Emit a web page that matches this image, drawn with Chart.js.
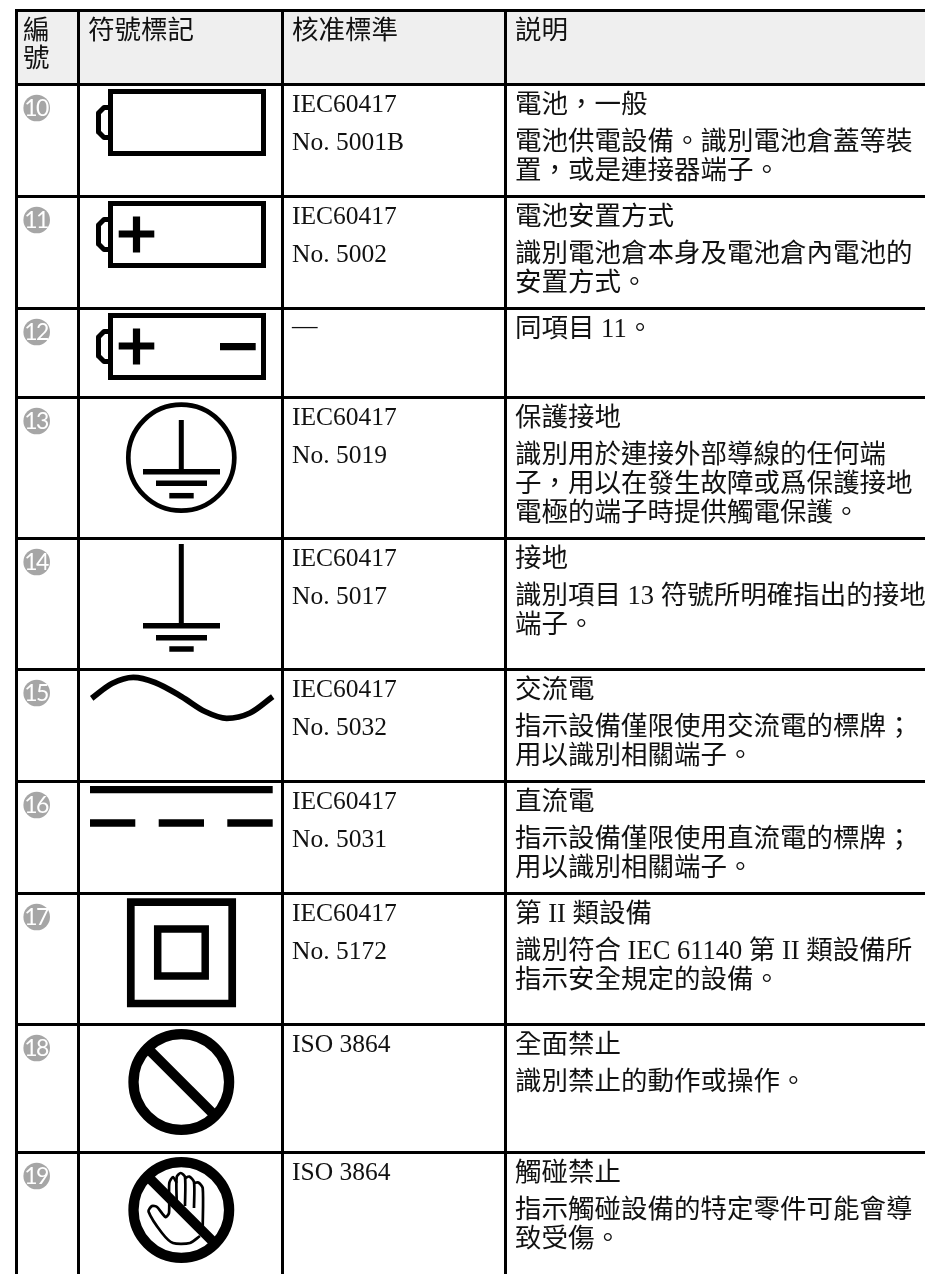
<!DOCTYPE html>
<html>
<head>
<meta charset="utf-8">
<style>
  html, body { margin: 0; padding: 0; background: #fff; }
  canvas { display: block; }
</style>
<script src="https://cdn.jsdelivr.net/npm/chart.js@4/dist/chart.umd.min.js"></script>
</head>
<body>
<canvas id="myChart" width="925" height="1274"></canvas>
<script>
// table content
var headers = ["符號標記", "核准標準", "説明"];
var headerNumber = ["編", "號"];
var itemNumbers = ["10", "11", "12", "13", "14", "15", "16", "17", "18", "19"];
var standards = [
  ["IEC60417", "No. 5001B"],
  ["IEC60417", "No. 5002"],
  ["—"],
  ["IEC60417", "No. 5019"],
  ["IEC60417", "No. 5017"],
  ["IEC60417", "No. 5032"],
  ["IEC60417", "No. 5031"],
  ["IEC60417", "No. 5172"],
  ["ISO 3864"],
  ["ISO 3864"],
];
var descriptions = [
  ["電池，一般", "電池供電設備。識別電池倉蓋等裝", "置，或是連接器端子。"],
  ["電池安置方式", "識別電池倉本身及電池倉內電池的", "安置方式。"],
  ["同項目 11。"],
  ["保護接地", "識別用於連接外部導線的任何端", "子，用以在發生故障或爲保護接地", "電極的端子時提供觸電保護。"],
  ["接地", "識別項目 13 符號所明確指出的接地", "端子。"],
  ["交流電", "指示設備僅限使用交流電的標牌；", "用以識別相關端子。"],
  ["直流電", "指示設備僅限使用直流電的標牌；", "用以識別相關端子。"],
  ["第 II 類設備", "識別符合 IEC 61140 第 II 類設備所", "指示安全規定的設備。"],
  ["全面禁止", "識別禁止的動作或操作。"],
  ["觸碰禁止", "指示觸碰設備的特定零件可能會導", "致受傷。"],
];

// table rules
var columnEdges = [16.5, 78.5, 282.5, 505.5];
var rowEdges = [10.5, 84.5, 196.5, 308.5, 397.5, 538.5, 669.5, 781.5, 893.5, 1024.5, 1152.5];
var tableRight = 925;
var tableBottom = 1274;

// symbols, in page pixels
var batteryTops = [84, 196, 308];
var plusRows = [196, 308];
var groundBars = [[143, 220], [156, 207], [169.3, 193.7]];
var groundBarsY13 = [471.7, 483.3, 495.7];
var groundBarsY14 = [625.7, 637.8, 649];
var wave = [[91.7, 698.3], [112, 683.5], [133.3, 677.3], [155, 682.5], [181.7, 696.7], [205, 711.5], [226.7, 718.3], [250, 713], [272.7, 696.7]];
var dcSolid = [[90, 789.7], [272.7, 789.7]];
var dcDashes = [[90, 135.3], [158.7, 204], [227.3, 272.7]];
var dcDashY = 823;
var outerSquare = [[130.8, 902.2], [232.2, 902.2], [232.2, 1003.5], [130.8, 1003.5], [130.8, 902.2]];
var innerSquare = [[157.7, 929], [205.2, 929], [205.2, 976], [157.7, 976], [157.7, 929]];
var handOutline = [[200, 1236], [190, 1243], [173, 1243], [162, 1233], [148.5, 1211.5], [152, 1206], [157, 1207], [165.5, 1217], [169, 1213], [169.3, 1183], [173, 1177], [176.7, 1183]];
var handFingers = [
  [[176.7, 1203], [176.7, 1177], [180.7, 1173], [185, 1177], [185, 1206]],
  [[185, 1178], [189.3, 1176.5], [194, 1182], [194, 1208]],
  [[194, 1183], [198.3, 1182.5], [202.7, 1188], [202.7, 1228]],
];

var rows = [];
function path(points, width, extra) {
  rows.push(Object.assign({
    type: "line",
    data: points.map(function (p) { return { x: p[0], y: p[1] }; }),
    borderColor: "#000",
    borderWidth: width,
    pointRadius: 0,
    fill: false,
    clip: false,
  }, extra || {}));
}

// rules
var ruleWidth = 3;
columnEdges.forEach(function (x) {
  path([[x, rowEdges[0] - 1.5], [x, tableBottom]], ruleWidth);
});
rowEdges.forEach(function (y) {
  path([[columnEdges[0], y], [tableRight, y]], ruleWidth);
});

// batteries
batteryTops.forEach(function (t) {
  path([[110.5, t + 7.5], [263.5, t + 7.5], [263.5, t + 69.5], [110.5, t + 69.5], [110.5, t + 7.5]], 5, { borderCapStyle: "square" });
  path([[109, t + 23.5], [104, t + 23.5], [98.5, t + 29], [98.5, t + 48], [104, t + 53.5], [109, t + 53.5]], 5, { borderJoinStyle: "round" });
});
plusRows.forEach(function (t) {
  path([[118.7, t + 38], [154.3, t + 38]], 7.2);
  path([[136.5, t + 20.5], [136.5, t + 56.5]], 7.2);
});
path([[220, 346.7], [255.7, 346.7]], 7.2);

// earth symbols
path([[181.3, 420], [181.3, 472]], 5);
path([[181.3, 544], [181.3, 626]], 5);
groundBars.forEach(function (b, i) {
  path([[b[0], groundBarsY13[i]], [b[1], groundBarsY13[i]]], 5.5);
  path([[b[0], groundBarsY14[i]], [b[1], groundBarsY14[i]]], 5.5);
});

// ac / dc
path(wave, 5.8, { cubicInterpolationMode: "monotone" });
path(dcSolid, 7.3);
dcDashes.forEach(function (d) {
  path([[d[0], dcDashY], [d[1], dcDashY]], 7.3);
});

// class II
path(outerSquare, 7.7, { borderCapStyle: "square" });
path(innerSquare, 7.5, { borderCapStyle: "square" });

// prohibition signs
path([[147.5, 1048.2], [215.1, 1115.8]], 10);
path([[147.5, 1176.2], [215.1, 1243.8]], 10);
path(handOutline, 2.7, { borderJoinStyle: "round", tension: 0.25 });
handFingers.forEach(function (f) {
  path(f, 2.7, { borderJoinStyle: "round", tension: 0.25 });
});

// rings
function ring(x, y, radius, width) {
  rows.push({
    type: "scatter",
    data: [{ x: x, y: y }],
    showLine: false,
    pointRadius: radius,
    pointBorderWidth: width,
    pointBorderColor: "#000",
    pointBackgroundColor: "rgba(0,0,0,0)",
    clip: false,
  });
}
ring(181.3, 457.7, 53, 4.7);
ring(181.3, 1082, 47.8, 10.3);
ring(181.3, 1210, 47.8, 10.3);

// number badges
rows.push({
  type: "scatter",
  data: itemNumbers.map(function (n, i) { return { x: 36.7, y: rowEdges[i + 1] + 23.5 }; }),
  showLine: false,
  pointRadius: 13.3,
  pointBorderWidth: 0,
  pointBackgroundColor: "#a6a6a6",
  clip: false,
});

// header band
rows.push({
  type: "line",
  data: [{ x: columnEdges[0], y: rowEdges[0] }, { x: tableRight, y: rowEdges[0] }],
  borderWidth: 0,
  pointRadius: 0,
  backgroundColor: "#efefef",
  fill: { target: { value: rowEdges[1] } },
  clip: false,
});

var serif = '"Liberation Serif", "Noto Sans CJK TC", serif';
var lineOffsets = [21.5, 59, 88, 117];
var standardOffsets = [20.5, 58.5];
var dashOffset = 18.5;

var tableText = {
  id: "tableText",
  afterDatasetsDraw: function (chart) {
    var ctx = chart.ctx;
    var sx = chart.scales.x;
    var sy = chart.scales.y;
    function put(str, x, y) {
      ctx.fillText(str, sx.getPixelForValue(x), sy.getPixelForValue(y));
    }
    ctx.save();
    ctx.textAlign = "left";
    ctx.textBaseline = "middle";
    ctx.fillStyle = "#111";

    ctx.font = "26.5px " + serif;
    put(headerNumber[0], 23, 32);
    put(headerNumber[1], 23, 60);
    put(headers[0], 88, 32);
    put(headers[1], 292, 32);
    put(headers[2], 515, 32);

    itemNumbers.forEach(function (n, i) {
      var top = rowEdges[i + 1];
      ctx.font = "25.5px " + serif;
      standards[i].forEach(function (s, j) {
        put(s, 292, top + (s === "—" ? dashOffset : standardOffsets[j]));
      });
      ctx.font = "26.5px " + serif;
      descriptions[i].forEach(function (s, j) {
        put(s, 515, top + lineOffsets[j]);
      });
    });

    ctx.fillStyle = "#fff";
    ctx.textAlign = "center";
    ctx.font = '400 23px Lato, "Open Sans", sans-serif';
    ctx.letterSpacing = "-1.5px";
    itemNumbers.forEach(function (n, i) {
      put(n, 36, rowEdges[i + 1] + 24.5);
    });
    ctx.restore();
  },
};

new Chart(document.getElementById("myChart").getContext("2d"), {
  type: "scatter",
  data: { datasets: rows },
  options: {
    responsive: false,
    animation: false,
    devicePixelRatio: 1,
    layout: { padding: 0, autoPadding: false },
    plugins: { legend: { display: false }, tooltip: { enabled: false } },
    events: [],
    scales: {
      x: { type: "linear", display: false, min: 0, max: 925 },
      y: { type: "linear", display: false, min: 0, max: 1274, reverse: true },
    },
  },
  plugins: [tableText],
});
</script>
</body>
</html>
